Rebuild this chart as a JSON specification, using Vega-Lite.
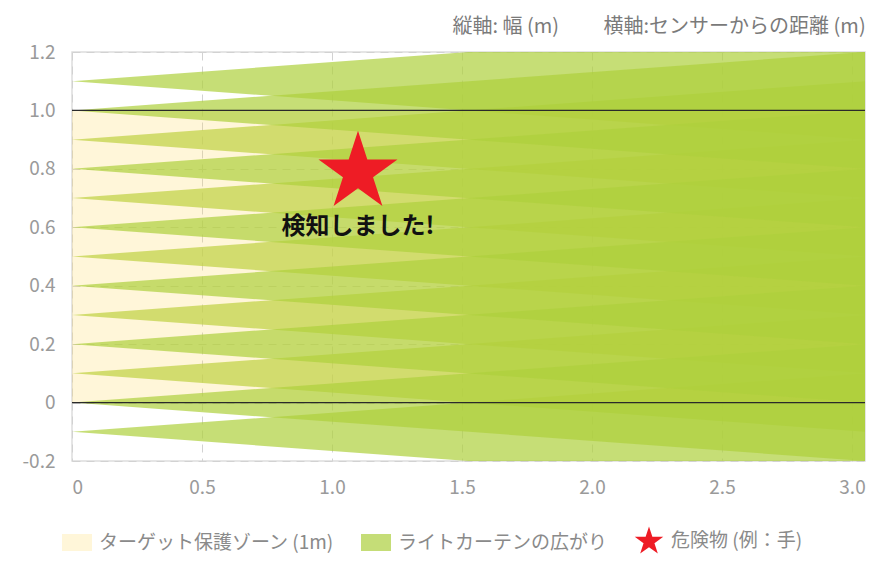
{
  "$schema": "https://vega.github.io/schema/vega-lite/v6.json",
  "width": 793,
  "height": 409,
  "autosize": {"type": "none"},
  "padding": {"left": 72, "top": 52, "right": 14, "bottom": 107},
  "title": {
    "text": "縦軸: 幅 (m)　　  横軸:センサーからの距離 (m)",
    "anchor": "end",
    "fontSize": 20,
    "fontWeight": "normal",
    "color": "#7a7a7a",
    "offset": 6
  },
  "config": {
    "font": "Noto Sans CJK JP",
    "view": {"stroke": "#dddddd", "strokeWidth": 1.5},
    "axis": {
      "domain": false,
      "ticks": false,
      "labelColor": "#9a9a9a",
      "labelFontSize": 19,
      "labelPadding": 17,
      "gridColor": "#d2d2d2",
      "gridDash": [8, 6],
      "gridWidth": 1,
      "title": null
    }
  },
  "datasets": {
    "oddBeams": [
      {"beam": "-0.1", "dist": 0, "lo": -0.1, "hi": -0.1},
      {"beam": "-0.1", "dist": 3.05, "lo": -0.3, "hi": 0.1},
      {"beam": "0.1", "dist": 0, "lo": 0.1, "hi": 0.1},
      {"beam": "0.1", "dist": 3.05, "lo": -0.1, "hi": 0.3},
      {"beam": "0.3", "dist": 0, "lo": 0.3, "hi": 0.3},
      {"beam": "0.3", "dist": 3.05, "lo": 0.1, "hi": 0.5},
      {"beam": "0.5", "dist": 0, "lo": 0.5, "hi": 0.5},
      {"beam": "0.5", "dist": 3.05, "lo": 0.3, "hi": 0.7},
      {"beam": "0.7", "dist": 0, "lo": 0.7, "hi": 0.7},
      {"beam": "0.7", "dist": 3.05, "lo": 0.5, "hi": 0.9},
      {"beam": "0.9", "dist": 0, "lo": 0.9, "hi": 0.9},
      {"beam": "0.9", "dist": 3.05, "lo": 0.7, "hi": 1.1},
      {"beam": "1.1", "dist": 0, "lo": 1.1, "hi": 1.1},
      {"beam": "1.1", "dist": 3.05, "lo": 0.9, "hi": 1.3}
    ],
    "evenBeams": [
      {"beam": "0.0", "dist": 0, "lo": 0, "hi": 0},
      {"beam": "0.0", "dist": 3.05, "lo": -0.2, "hi": 0.2},
      {"beam": "0.2", "dist": 0, "lo": 0.2, "hi": 0.2},
      {"beam": "0.2", "dist": 3.05, "lo": 0.0, "hi": 0.4},
      {"beam": "0.4", "dist": 0, "lo": 0.4, "hi": 0.4},
      {"beam": "0.4", "dist": 3.05, "lo": 0.2, "hi": 0.6},
      {"beam": "0.6", "dist": 0, "lo": 0.6, "hi": 0.6},
      {"beam": "0.6", "dist": 3.05, "lo": 0.4, "hi": 0.8},
      {"beam": "0.8", "dist": 0, "lo": 0.8, "hi": 0.8},
      {"beam": "0.8", "dist": 3.05, "lo": 0.6, "hi": 1.0},
      {"beam": "1.0", "dist": 0, "lo": 1.0, "hi": 1.0},
      {"beam": "1.0", "dist": 3.05, "lo": 0.8, "hi": 1.2}
    ],
    "zone": [{"x0": 0, "x1": 3.05, "y0": 0, "y1": 1}],
    "lines": [{"y": 0}, {"y": 1}],
    "hazard": [{"dist": 1.1, "width": 0.788, "label": "危険物 (例：手)"}],
    "note": [{"dist": 1.1, "width": 0.6, "text": "検知しました!"}]
  },
  "encoding": {
    "x": {
      "type": "quantitative",
      "scale": {"domain": [0, 3.05], "nice": false, "zero": false},
      "axis": {
        "values": [0, 0.5, 1, 1.5, 2, 2.5, 3],
        "labelExpr": "datum.value == 0 ? '0' : format(datum.value, '.1f')"
      }
    },
    "y": {
      "type": "quantitative",
      "scale": {"domain": [-0.2, 1.2], "nice": false, "zero": false},
      "axis": {
        "values": [-0.2, 0, 0.2, 0.4, 0.6, 0.8, 1.0, 1.2],
        "labelExpr": "datum.value == 0 ? '0' : (datum.value < 0 ? '-' + format(-datum.value, '.1f') : format(datum.value, '.1f'))"
      }
    }
  },
  "layer": [
    {
      "data": {"name": "oddBeams"},
      "mark": {"type": "area", "clip": true, "color": "#aed03c", "opacity": 0.7},
      "encoding": {
        "x": {"field": "dist", "type": "quantitative"},
        "y": {"field": "lo", "type": "quantitative"},
        "y2": {"field": "hi"},
        "detail": {"field": "beam"}
      }
    },
    {
      "data": {"name": "zone"},
      "mark": {"type": "rect", "clip": true, "color": "#ffd652", "opacity": 0.22},
      "encoding": {
        "x": {"field": "x0", "type": "quantitative"},
        "x2": {"field": "x1"},
        "y": {"field": "y0", "type": "quantitative"},
        "y2": {"field": "y1"}
      }
    },
    {
      "data": {"name": "evenBeams"},
      "mark": {"type": "area", "clip": true, "color": "#aed03c", "opacity": 0.7},
      "encoding": {
        "x": {"field": "dist", "type": "quantitative"},
        "y": {"field": "lo", "type": "quantitative"},
        "y2": {"field": "hi"},
        "detail": {"field": "beam"}
      }
    },
    {
      "data": {"name": "lines"},
      "mark": {"type": "rule", "color": "#2a2a2a", "strokeWidth": 1.3},
      "encoding": {
        "y": {"field": "y", "type": "quantitative"}
      }
    },
    {
      "data": {"name": "hazard"},
      "mark": {"type": "point", "filled": true, "opacity": 1, "size": 6890},
      "encoding": {
        "x": {"field": "dist", "type": "quantitative"},
        "y": {"field": "width", "type": "quantitative"},
        "color": {
          "field": "label",
          "type": "nominal",
          "scale": {
            "domain": ["ターゲット保護ゾーン (1m)", "ライトカーテンの広がり", "危険物 (例：手)"],
            "range": ["#fff6d9", "#c5dd77", "#ee1c25"]
          },
          "legend": {
            "title": null,
            "orient": "none",
            "legendX": -10,
            "legendY": 474,
            "direction": "horizontal",
            "symbolSize": 900,
            "symbolStrokeWidth": 0,
            "labelFontSize": 19,
            "labelColor": "#8a8a8a",
            "labelLimit": 400,
            "labelOffset": 7,
            "columnPadding": 26
          }
        },
        "shape": {
          "field": "label",
          "type": "nominal",
          "scale": {
            "domain": ["ターゲット保護ゾーン (1m)", "ライトカーテンの広がり", "危険物 (例：手)"],
            "range": [
              "M-1,-0.567H1V0.567H-1Z",
              "M-1,-0.567H1V0.567H-1Z",
              "M0,-1L0.2245,-0.309L0.951,-0.309L0.363,0.118L0.588,0.809L0,0.382L-0.588,0.809L-0.363,0.118L-0.951,-0.309L-0.2245,-0.309Z"
            ]
          }
        }
      }
    },
    {
      "data": {"name": "note"},
      "mark": {"type": "text", "fontSize": 24, "fontWeight": "bold", "color": "#111111", "baseline": "middle"},
      "encoding": {
        "x": {"field": "dist", "type": "quantitative"},
        "y": {"field": "width", "type": "quantitative"},
        "text": {"field": "text"}
      }
    }
  ]
}
